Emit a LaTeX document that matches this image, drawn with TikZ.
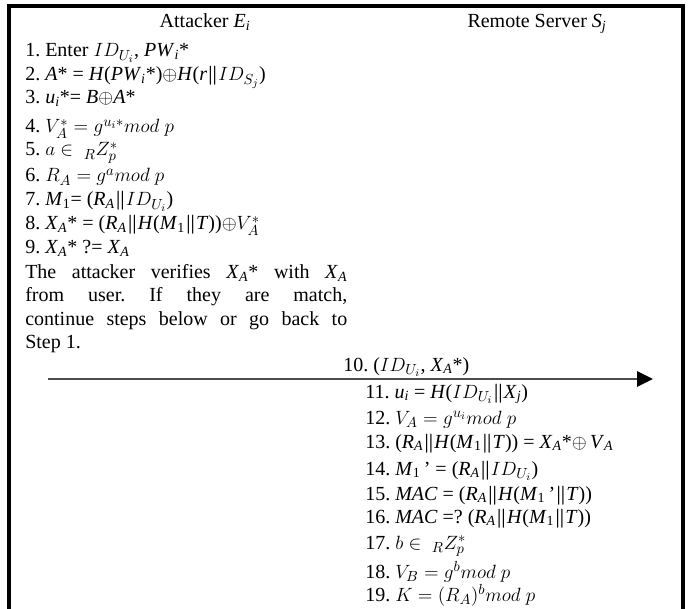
\documentclass[tikz,border=0pt]{standalone}
\usepackage{fontspec}
\setmainfont{Liberation Serif}
\usetikzlibrary{arrows.meta}
\frenchspacing
\newcommand{\tit}[1]{\textit{#1}}
\newcommand{\mysb}[1]{\textsubscript{\textit{#1}}}
\newcommand{\cm}[1]{{\fontsize{15.5}{18}\selectfont$#1$}}
\newcommand{\pbar}{{\boldmath$\|$}}
\newcommand{\IDU}{\cm{ID_{U_i}}}
\begin{document}
\begin{tikzpicture}[x=0.75pt,y=-0.75pt,
  txt/.style={anchor=base west, inner sep=0pt, font=\fontsize{15}{18}\selectfont},
  ctr/.style={anchor=base, inner sep=0pt, font=\fontsize{15}{18}\selectfont},
  frame/.style={line width=3pt, line join=miter},
  msg/.style={draw=black!70, line width=1.2pt, -{Triangle[length=12pt,width=11.5pt,color=black]}}]
\useasboundingbox (0,0) rectangle (692,609);
\draw[frame] (9,615) -- (9,6) -- (683,6) -- (683,615);
% titles
\node[ctr] (tA) at (205,28) {Attacker \tit{E}\mysb{i}};
\node[ctr] (tS) at (537,28) {Remote Server \tit{S}\mysb{j}};
% attacker steps
\node[txt] (s1) at (25,57) {1. Enter \IDU, \tit{PW}\mysb{i}*};
\node[txt] (s2) at (25,81) {2. \tit{A}* = \tit{H}(\tit{PW}\mysb{i}*)$\oplus$\tit{H}(\tit{r}\pbar\cm{ID_{S_j}})};
\node[txt] (s3) at (25,104) {3. \tit{u}\mysb{i}*= \tit{B}$\oplus$\tit{A}*};
\node[txt] (s4) at (25,133) {4. \cm{V_A^* = g^{u_i*}mod\ p}};
\node[txt] (s5) at (25,156) {5. \cm{a \in\ {}_{R}Z_p^*}};
\node[txt] (s6) at (25,182) {6. \cm{R_A = g^a mod\ p}};
\node[txt] (s7) at (25,206) {7. \tit{M}\textsubscript{1}= (\tit{R}\mysb{A}\pbar\IDU)};
\node[txt] (s8) at (25,230) {8. \tit{X}\mysb{A}* = (\tit{R}\mysb{A}\pbar\tit{H}(\tit{M}\textsubscript{1}\pbar\tit{T}))$\oplus$\cm{V_A^*}};
\node[txt] (s9) at (25,254) {9. \tit{X}\mysb{A}* ?= \tit{X}\mysb{A}};
\node[txt] (p1) at (25,279) {\makebox[241.5pt][s]{The attacker verifies \tit{X}\mysb{A}* with \tit{X}\mysb{A}}};
\node[txt] (p2) at (25,302) {\makebox[241.5pt][s]{from user. If they are match,}};
\node[txt] (p3) at (25,326) {\makebox[241.5pt][s]{continue steps below or go back to}};
\node[txt] (p4) at (25,349) {Step 1.};
% message
\node[txt] (m10) at (343,371) {10. (\IDU, \tit{X}\mysb{A}*)};
\coordinate (as) at (48,379);
\coordinate (ae) at (653,379);
\draw[msg] (as) -- (ae);
% server steps
\node[txt] (r11) at (365,398) {11. \tit{u}\mysb{i} = \tit{H}(\IDU\pbar\tit{X}\mysb{j})};
\node[txt] (r12) at (365,424) {12. \cm{V_A = g^{u_i}mod\ p}};
\node[txt] (r13) at (365,448) {13. (\tit{R}\mysb{A}\pbar\tit{H}(\tit{M}\textsubscript{1}\pbar\tit{T})) = \tit{X}\mysb{A}*$\oplus$\,\tit{V}\mysb{A}};
\node[txt] (r14) at (365,475) {14. \tit{M}\textsubscript{1}\,' = (\tit{R}\mysb{A}\pbar\IDU)};
\node[txt] (r15) at (365,500) {15. \tit{MAC} = (\tit{R}\mysb{A}\pbar\tit{H}(\tit{M}\textsubscript{1}\,'\pbar\tit{T}))};
\node[txt] (r16) at (365,523) {16. \tit{MAC} =? (\tit{R}\mysb{A}\pbar\tit{H}(\tit{M}\textsubscript{1}\pbar\tit{T}))};
\node[txt] (r17) at (365,549) {17. \cm{b \in\ {}_{R}Z_p^*}};
\node[txt] (r18) at (365,578) {18. \cm{V_B = g^b mod\ p}};
\node[txt] (r19) at (365,601) {19. \cm{K = (R_A)^b mod\ p}};
\end{tikzpicture}
\end{document}
